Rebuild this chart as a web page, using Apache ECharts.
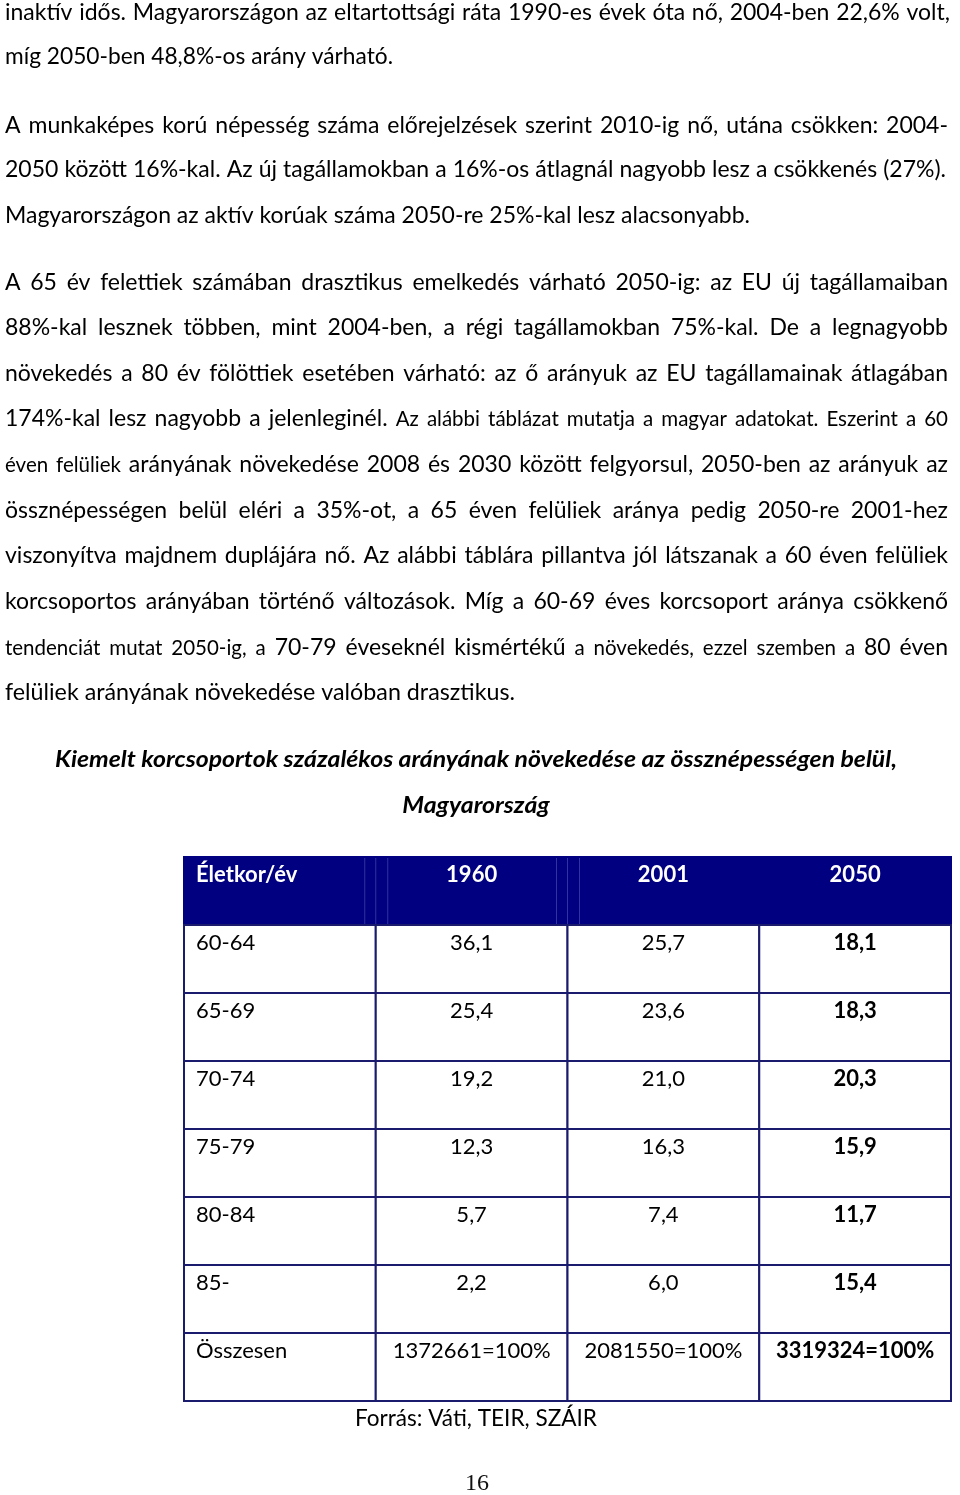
<!DOCTYPE html>
<html><head><meta charset="utf-8">
<script src="https://cdn.jsdelivr.net/npm/echarts@6/dist/echarts.min.js"></script>
<style>html,body{margin:0;padding:0;background:#fff}#c{width:960px;height:1495px}</style>
</head><body><div id="c"></div>
<script>
// ---------- DATA ----------
const headerLabel = 'Életkor/év';
const years = ['1960', '2001', '2050'];
const ageGroups = ['60-64', '65-69', '70-74', '75-79', '80-84', '85-'];
const share1960 = [36.1, 25.4, 19.2, 12.3, 5.7, 2.2];
const share2001 = [25.7, 23.6, 21.0, 16.3, 7.4, 6.0];
const share2050 = [18.1, 18.3, 20.3, 15.9, 11.7, 15.4];
const totalLabel = 'Összesen';
const totals = [1372661, 2081550, 3319324];

const tableTitle = ['Kiemelt korcsoportok százalékos arányának növekedése az össznépességen belül,', 'Magyarország'];
const sourceNote = 'Forrás: Váti, TEIR, SZÁIR';
const pageNumber = '16';

const bodyLines = [
  'inaktív idős. Magyarországon az eltartottsági ráta 1990-es évek óta nő, 2004-ben 22,6% volt,',
  'míg 2050-ben 48,8%-os arány várható.',
  'A munkaképes korú népesség száma előrejelzések szerint 2010-ig nő, utána csökken: 2004-',
  '2050 között 16%-kal. Az új tagállamokban a 16%-os átlagnál nagyobb lesz a csökkenés (27%).',
  'Magyarországon az aktív korúak száma 2050-re 25%-kal lesz alacsonyabb.',
  'A 65 év felettiek számában drasztikus emelkedés várható 2050-ig: az EU új tagállamaiban',
  '88%-kal lesznek többen, mint 2004-ben, a régi tagállamokban 75%-kal. De a legnagyobb',
  'növekedés a 80 év fölöttiek esetében várható: az ő arányuk az EU tagállamainak átlagában',
  '174%-kal lesz nagyobb a jelenleginél. Az alábbi táblázat mutatja a magyar adatokat. Eszerint a 60',
  'éven felüliek arányának növekedése 2008 és 2030 között felgyorsul, 2050-ben az arányuk az',
  'össznépességen belül eléri a 35%-ot, a 65 éven felüliek aránya pedig 2050-re 2001-hez',
  'viszonyítva majdnem duplájára nő. Az alábbi táblára pillantva jól látszanak a 60 éven felüliek',
  'korcsoportos arányában történő változások. Míg a 60-69 éves korcsoport aránya csökkenő',
  'tendenciát mutat 2050-ig, a 70-79 éveseknél kismértékű a növekedés, ezzel szemben a 80 éven',
  'felüliek arányának növekedése valóban drasztikus.'
];

// ---------- LAYOUT (positions / styles) ----------
const FONT = 'Lato';
const BASE = 23, SMALL = 20.5;
const lineLayout = [
  {y: 13,  x1: 950, justify: true},
  {y: 57,  x1: 393, justify: false},
  {y: 126, x1: 948, justify: true},
  {y: 170, x1: 946, justify: true},
  {y: 216, x1: 750, justify: false},
  {y: 283, x1: 948, justify: true},
  {y: 328, x1: 948, justify: true},
  {y: 374, x1: 948, justify: true},
  {y: 419, x1: 948, justify: true, small: [[5, 99]]},
  {y: 465, x1: 948, justify: true, small: [[0, 1]]},
  {y: 511, x1: 948, justify: true},
  {y: 556, x1: 948, justify: true},
  {y: 602, x1: 948, justify: true},
  {y: 648, x1: 948, justify: true, small: [[0, 3], [7, 11]]},
  {y: 693, x1: 515, justify: false}
];
const X0 = 5;

const canvas = document.createElement('canvas');
const ctx = canvas.getContext('2d');
function measure(t, size, weight, style) {
  ctx.font = (style || 'normal') + ' ' + (weight || 'normal') + ' ' + size + 'px ' + FONT;
  return ctx.measureText(t).width;
}
function fmt(v) { return v.toFixed(1).replace('.', ','); }

const graphics = [];
function textEl(t, x, y, size, opts) {
  opts = opts || {};
  const font = (opts.style || 'normal') + ' ' + (opts.weight || 'normal') + ' ' + size + 'px ' + FONT;
  return {
    type: 'text', x: x, y: y, scaleX: opts.scaleX || 1, silent: true,
    style: {text: t, font: font, fill: opts.fill || '#000',
      align: opts.align || 'left', textAlign: opts.align || 'left',
      verticalAlign: 'middle', textVerticalAlign: 'middle'}
  };
}

// global condensation estimated from the un-justified lines
let ratios = [];
bodyLines.forEach(function (line, i) {
  const L = lineLayout[i];
  if (!L.justify) ratios.push((L.x1 - X0) / measure(line, BASE));
});
const s0 = ratios.reduce(function (a, b) { return a + b; }, 0) / ratios.length;

bodyLines.forEach(function (line, i) {
  const L = lineLayout[i];
  const target = L.x1 - X0;
  if (!L.justify) {
    const s = target / measure(line, BASE);
    graphics.push(textEl(line, X0, L.y, BASE, {scaleX: s}));
    return;
  }
  const words = line.split(' ').map(function (w, k) {
    let size = BASE;
    (L.small || []).forEach(function (r) { if (k >= r[0] && k <= r[1]) size = SMALL; });
    return {t: w, size: size, w: measure(w, size)};
  });
  const sumW = words.reduce(function (a, b) { return a + b.w; }, 0);
  const spaceW = measure(' ', BASE);
  const n = words.length;
  let s = s0;
  let gap = (target - s * sumW) / (n - 1);
  const minGap = 0.7 * spaceW;
  if (gap < minGap * s) {
    s = target / (sumW + (n - 1) * minGap);
    gap = minGap * s;
  }
  let x = X0;
  words.forEach(function (wd) {
    graphics.push(textEl(wd.t, x, L.y, wd.size, {scaleX: s}));
    x += wd.w * s + gap;
  });
});

// table title
(function () {
  const size = 23;
  const w0 = measure(tableTitle[0], size, 'bold', 'italic');
  const s = (897 - 55) / w0;
  const w1 = measure(tableTitle[1], size, 'bold', 'italic');
  graphics.push(textEl(tableTitle[0], 476 - w0 * s / 2, 760, size, {scaleX: s, weight: 'bold', style: 'italic', fill: '#000'}));
  graphics.push(textEl(tableTitle[1], 476 - w1 * s / 2, 806, size, {scaleX: s, weight: 'bold', style: 'italic', fill: '#000'}));
})();

// source note
(function () {
  const w = measure(sourceNote, BASE);
  const s = (597 - 355) / w;
  graphics.push(textEl(sourceNote, 355, 1419, BASE, {scaleX: s, fill: '#000'}));
})();

// page number
graphics.push({
  type: 'text', x: 477, y: 1484, silent: true,
  style: {text: pageNumber, font: 'normal 24px "Liberation Serif"', fill: '#111',
    align: 'center', textAlign: 'center', verticalAlign: 'middle', textVerticalAlign: 'middle'}
});

// ---------- TABLE CELLS ----------
const rowNames = ['header'].concat(ageGroups, ['total']);
const colNames = ['label'].concat(years);
const cells = [];
cells.push({value: [0, 0], text: headerLabel});
years.forEach(function (y, j) { cells.push({value: [j + 1, 0], text: y}); });
const cols = [share1960, share2001, share2050];
ageGroups.forEach(function (g, i) {
  cells.push({value: [0, i + 1], text: g});
  cols.forEach(function (arr, j) { cells.push({value: [j + 1, i + 1], text: fmt(arr[i])}); });
});
cells.push({value: [0, 7], text: totalLabel});
totals.forEach(function (t, j) { cells.push({value: [j + 1, 7], text: t + '=100%'}); });

const NAVY = '#000080';
const LINE = '#1b1b6e';

function renderCell(params, api) {
  const c = api.value(0), r = api.value(1);
  const p = api.coord([c, r]);
  const sz = api.size([1, 1]);
  const x = p[0] - sz[0] / 2, y = p[1] - sz[1] / 2;
  const cell = cells[params.dataIndex];
  const header = r === 0;
  const bold = header || c === 3;
  const children = [{
    type: 'rect', shape: {x: x, y: y, width: sz[0], height: sz[1]},
    style: {fill: header ? NAVY : '#fff', stroke: header ? NAVY : LINE, lineWidth: 2}
  }];
  if (header && (c === 1 || c === 2)) {
    [-11, 0, 12].forEach(function (dx) {
      children.push({type: 'line', shape: {x1: x + dx, y1: y + 1, x2: x + dx, y2: y + sz[1] - 1},
        style: {stroke: 'rgba(110,110,200,0.45)', lineWidth: 1}});
    });
  }
  const left = c === 0;
  children.push({
    type: 'text', x: left ? x + 12 : p[0], y: y + 18,
    style: {text: cell.text, font: (bold ? 'bold ' : 'normal ') + '22px ' + FONT,
      fill: header ? '#fff' : '#000', align: left ? 'left' : 'center', textAlign: left ? 'left' : 'center',
      verticalAlign: 'middle', textVerticalAlign: 'middle'}
  });
  return {type: 'group', children: children};
}

const chart = echarts.init(document.getElementById('c'), null, {width: 960, height: 1495});
chart.setOption({
  backgroundColor: '#fff',
  animation: false,
  grid: {left: 184, top: 857, width: 767, height: 544},
  xAxis: {type: 'category', data: colNames, show: false},
  yAxis: {type: 'category', data: rowNames, inverse: true, show: false},
  series: [{
    type: 'custom', renderItem: renderCell, data: cells, silent: true,
    encode: {x: 0, y: 1}
  }],
  graphic: graphics
});
</script>
</body></html>
